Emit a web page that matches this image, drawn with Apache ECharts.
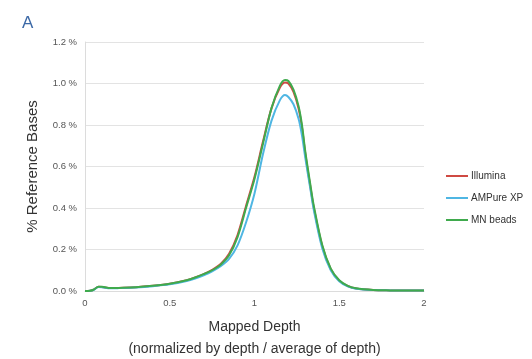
<!DOCTYPE html>
<html>
<head>
<meta charset="utf-8">
<script src="https://cdn.jsdelivr.net/npm/echarts@6/dist/echarts.min.js"></script>
<style>
  html, body { margin: 0; padding: 0; background: #fff; }
</style>
</head>
<body>
<div id="main" style="width: 532px;height:359px;"></div>
<script type="text/javascript">
// mapped depth (normalized) and % of reference bases per library prep
var depth    = [0, 0.03, 0.05, 0.08, 0.1, 0.15, 0.2, 0.3, 0.4, 0.5, 0.6, 0.65, 0.7, 0.75, 0.8, 0.85, 0.9, 0.95, 1.0, 1.05, 1.1, 1.15, 1.18, 1.2, 1.23, 1.26, 1.28, 1.3, 1.33, 1.35, 1.4, 1.45, 1.5, 1.55, 1.6, 1.7, 1.8, 1.9, 2.0];
var illumina = [0, 0.001, 0.006, 0.02, 0.019, 0.014, 0.015, 0.018, 0.025, 0.035, 0.052, 0.065, 0.081, 0.102, 0.13, 0.18, 0.27, 0.41, 0.55, 0.72, 0.88, 0.98, 1.005, 1.0, 0.96, 0.88, 0.79, 0.66, 0.5, 0.4, 0.215, 0.105, 0.05, 0.024, 0.012, 0.005, 0.003, 0.002, 0.002];
var ampure   = [0, 0.001, 0.005, 0.019, 0.018, 0.013, 0.014, 0.017, 0.023, 0.032, 0.048, 0.06, 0.075, 0.095, 0.12, 0.155, 0.22, 0.33, 0.47, 0.66, 0.82, 0.92, 0.945, 0.935, 0.9, 0.83, 0.75, 0.64, 0.49, 0.39, 0.205, 0.1, 0.047, 0.022, 0.011, 0.005, 0.003, 0.002, 0.002];
var mnBeads  = [0, 0.001, 0.006, 0.02, 0.02, 0.014, 0.015, 0.018, 0.025, 0.035, 0.052, 0.065, 0.081, 0.1, 0.127, 0.172, 0.26, 0.4, 0.54, 0.71, 0.88, 0.99, 1.017, 1.012, 0.97, 0.89, 0.8, 0.67, 0.51, 0.41, 0.22, 0.108, 0.052, 0.025, 0.013, 0.005, 0.003, 0.002, 0.002];
var seriesNames = ['Illumina', 'AMPure XP', 'MN beads'];
var seriesColors = ['#cf4a43', '#4fb6e3', '#3faa4d'];

function pairs(ys) {
    return depth.map(function (x, i) { return [x, ys[i]]; });
}

var font = 'Liberation Sans';
var myChart = echarts.init(document.getElementById('main'));
var option = {
    animation: false,
    title: {
        text: 'A',
        left: 17,
        top: 10,
        textStyle: { color: '#3b68a6', fontSize: 17, fontWeight: 'normal', fontFamily: font }
    },
    legend: {
        orient: 'vertical',
        left: 441,
        top: 166,
        itemWidth: 22,
        itemHeight: 2,
        itemGap: 12,
        icon: 'rect',
        data: seriesNames,
        textStyle: { fontSize: 10, color: '#333', fontFamily: font, padding: [0, 0, 0, -2] }
    },
    grid: {
        left: 85,
        right: 108,
        top: 42,
        bottom: 68,
        outerBoundsMode: 'none'
    },
    xAxis: {
        type: 'value',
        min: 0,
        max: 2,
        interval: 0.5,
        name: 'Mapped Depth\n(normalized by depth / average of depth)',
        nameLocation: 'middle',
        nameGap: 25,
        nameTextStyle: { fontSize: 14, color: '#333', fontFamily: font, lineHeight: 22, verticalAlign: 'top' },
        axisLine: { show: true, lineStyle: { color: '#dcdcdc' } },
        axisTick: { show: false },
        splitLine: { show: false },
        axisLabel: { fontSize: 9.5, color: '#555', fontFamily: font, margin: 7 }
    },
    yAxis: {
        type: 'value',
        min: 0,
        max: 1.2,
        interval: 0.2,
        name: '% Reference Bases',
        nameLocation: 'middle',
        nameGap: 45,
        nameTextStyle: { fontSize: 15, color: '#333', fontFamily: font },
        axisLine: { show: true, lineStyle: { color: '#dcdcdc' } },
        axisTick: { show: false },
        splitLine: { lineStyle: { color: '#e3e3e3' } },
        axisLabel: {
            fontSize: 9.5, color: '#555', fontFamily: font, margin: 8,
            formatter: function (v) { return v.toFixed(1) + ' %'; }
        }
    },
    series: [
        { name: seriesNames[0], type: 'line', smooth: 0.3, showSymbol: false, data: pairs(illumina), lineStyle: { width: 2, color: seriesColors[0] }, itemStyle: { color: seriesColors[0] } },
        { name: seriesNames[1], type: 'line', smooth: 0.3, showSymbol: false, data: pairs(ampure), lineStyle: { width: 2, color: seriesColors[1] }, itemStyle: { color: seriesColors[1] } },
        { name: seriesNames[2], type: 'line', smooth: 0.3, showSymbol: false, data: pairs(mnBeads), lineStyle: { width: 2, color: seriesColors[2] }, itemStyle: { color: seriesColors[2] } }
    ]
};
myChart.setOption(option);
</script>
</body>
</html>
